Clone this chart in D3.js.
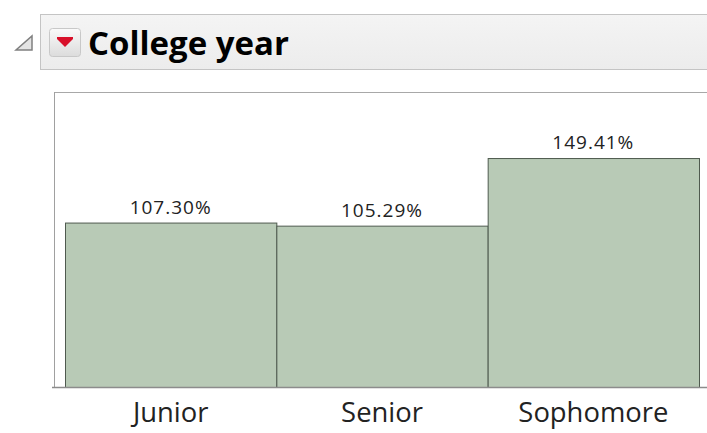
<!DOCTYPE html>
<html><head><meta charset="utf-8">
<script src="https://cdn.jsdelivr.net/npm/d3@7"></script>
<style>
html,body{margin:0;padding:0;background:#fff;}
svg{display:block;}
</style></head>
<body>
<script>
(function(){
const categories = ["Junior", "Senior", "Sophomore"];
const values = [107.30, 105.29, 149.41];
const title = "College year";

const W = 707, H = 433;
const svg = d3.select("body").append("svg").attr("width", W).attr("height", H);

// Title bar
const defs = svg.append("defs");
const g1 = defs.append("linearGradient").attr("id","tb").attr("x1",0).attr("y1",0).attr("x2",0).attr("y2",1);
g1.append("stop").attr("offset","0%").attr("stop-color","#f4f4f4");
g1.append("stop").attr("offset","100%").attr("stop-color","#ececec");
svg.append("rect").attr("x",40.5).attr("y",14.5).attr("width",700).attr("height",55)
  .attr("fill","url(#tb)").attr("stroke","#c4c4c4");
// disclosure triangle
svg.append("path").attr("d","M16,50 L32,50 L32,36 Z").attr("fill","#e4e4e4").attr("stroke","#808080").attr("stroke-width",1.5);
// red menu icon
const g2 = defs.append("linearGradient").attr("id","ib").attr("x1",0).attr("y1",0).attr("x2",0).attr("y2",1);
g2.append("stop").attr("offset","0%").attr("stop-color","#fafafa");
g2.append("stop").attr("offset","100%").attr("stop-color","#dcdcdc");
svg.append("rect").attr("x",49.5).attr("y",28.5).attr("width",31).attr("height",28).attr("rx",3)
  .attr("fill","url(#ib)").attr("stroke","#c8c8c8");
svg.append("path").attr("d","M57,39 L73,39 L65,47 Z").attr("fill","#d8102a");
svg.append("rect").attr("x",57).attr("y",37).attr("width",16).attr("height",2).attr("fill","#d8102a");

const t = svg.append("text").attr("x",88).attr("y",55).text(title)
  .attr("font-family","'Open Sans', 'Noto Sans', sans-serif").attr("font-weight","bold")
  .attr("font-size",30).attr("fill","#000");
let tw = t.node().getComputedTextLength();
t.attr("font-size", 30*201/tw);

// Plot frame
const pl = 54, pt = 92, pb = 387;
const x = d3.scaleBand().domain(categories).range([65, 699]).padding(0);
const y = d3.scaleLinear().domain([0, 192.5]).range([pb, pt]);

svg.append("line").attr("x1",pl).attr("x2",W).attr("y1",pt+0.5).attr("y2",pt+0.5).attr("stroke","#a8a8a8");
svg.append("line").attr("x1",pl+0.5).attr("x2",pl+0.5).attr("y1",pt).attr("y2",pb).attr("stroke","#a0a0a0");

svg.selectAll("rect.bar").data(values).enter().append("rect").attr("class","bar")
  .attr("x",(d,i)=>x(categories[i])+0.5).attr("width",x.bandwidth())
  .attr("y",d=>y(d)+0.5).attr("height",d=>pb-y(d))
  .attr("fill","#b8cab6").attr("stroke","#4f5a4f").attr("stroke-width",1);

const axis = svg.append("g").attr("transform",`translate(0,${pb+0.5})`)
  .call(d3.axisBottom(x).tickSize(0).tickPadding(15));
axis.select(".domain").attr("d",`M${pl-2},0H${W}`).attr("stroke","#8c8c8c").attr("stroke-width",1.5);
axis.selectAll("text").attr("font-family","'Open Sans', 'Noto Sans', sans-serif")
  .attr("font-size",22).attr("fill","#222");
const sw = axis.selectAll("text").filter(d=>d==="Sophomore").node().getComputedTextLength();
axis.selectAll("text").attr("font-size",22*150/sw);

svg.selectAll("text.lab").data(values).enter().append("text").attr("class","lab")
  .attr("x",(d,i)=>x(categories[i])+x.bandwidth()/2)
  .attr("y",d=>y(d)-9)
  .attr("text-anchor","middle")
  .attr("font-family","'Open Sans', 'Noto Sans', sans-serif")
  .attr("font-size",19).attr("letter-spacing",1).attr("fill","#222")
  .text(d=>d.toFixed(2)+"%");
})();
</script>
</body></html>
